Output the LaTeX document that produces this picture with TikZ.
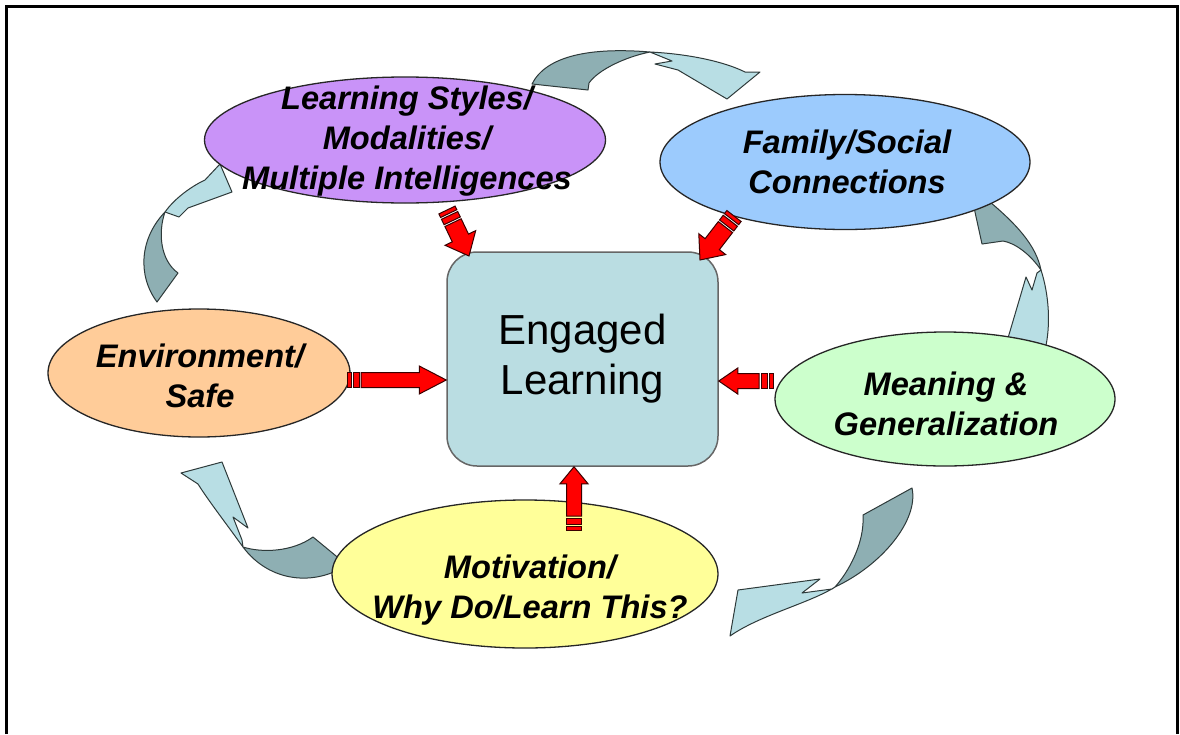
\documentclass[tikz,border=0pt]{standalone}
\usepackage{fontspec}
\setmainfont{Liberation Sans}
\usetikzlibrary{calc,shapes.geometric}

\definecolor{lsfill}{HTML}{C993F8}
\definecolor{fsfill}{HTML}{9CCBFD}
\definecolor{envfill}{HTML}{FFCC99}
\definecolor{mgfill}{HTML}{CCFFCC}
\definecolor{motfill}{HTML}{FFFF99}
\definecolor{boxfill}{HTML}{BADDE2}
\definecolor{bandback}{HTML}{8EAFB3}
\definecolor{bandfront}{HTML}{B8DEE4}
\definecolor{bandline}{HTML}{2E3A3A}
\definecolor{arrowred}{HTML}{FF0000}
\definecolor{arrowline}{HTML}{3A0000}

% striped block arrow from #1 (tail) to #2 (tip);
% #3 head length, #4 head half width, #5 shaft half width
\newcommand\stripedarrow[5]{%
  \path let \p1=(#1), \p2=(#2) in \pgfextra{%
    \pgfmathsetmacro\sAang{atan2(\y2-\y1,\x2-\x1)}%
    \pgfmathsetmacro\sAlen{veclen(\x2-\x1,\y2-\y1)}%
    \global\let\sAang\sAang \global\let\sAlen\sAlen};
  \begin{scope}[shift={(#1)}, rotate=\sAang, x=1pt, y=1pt]
    \filldraw[redarrow] (0,-#5) rectangle (4,#5);
    \filldraw[redarrow] (6,-#5) rectangle (12,#5);
    \filldraw[redarrow] (14,-#5) -- ({\sAlen-#3},-#5) -- ({\sAlen-#3},-#4)
      -- (\sAlen,0) -- ({\sAlen-#3},#4) -- ({\sAlen-#3},#5) -- (14,#5) -- cycle;
  \end{scope}}

\begin{document}
\begin{tikzpicture}[x=1pt,y=-1pt,
  bubble/.style={ellipse, draw=black!85, line width=1.3pt, inner sep=0pt},
  bubbletext/.style={font=\fontsize{32.6}{40}\selectfont\bfseries\itshape,
    align=center, text=black, inner sep=0pt},
  centerbox/.style={draw=black!60, line width=1.5pt, fill=boxfill,
    rounded corners=30pt, minimum width=271pt, minimum height=214pt,
    font=\fontsize{42}{50}\selectfont, align=center, text=black},
  redarrow/.style={fill=arrowred, draw=arrowline, line width=1pt, line join=miter},
  bandB/.style={fill=bandback, draw=bandline, line width=1pt, line join=round},
  bandF/.style={fill=bandfront, draw=bandline, line width=1pt, line join=round}]

\useasboundingbox (0,0) rectangle (1180,734);
\fill[white] (0,0) rectangle (1180,734);

% frame
\draw[line width=3pt] (6.5,734) -- (6.5,6.5) -- (1177,6.5) -- (1177,734);

% curved cycle arrows (back face dark, front face light)
% top: learning styles -> family/social
\filldraw[bandB] (532,84) .. controls (546,56) and (590,47) .. (650,52)
  .. controls (625,57) and (598,70) .. (589,83) -- (588,90) -- cycle;
\filldraw[bandF] (650,52) .. controls (690,54) and (725,62) .. (745,72)
  -- (760,72) -- (727,99) -- (678,70) -- (655,64) -- (672,61) -- cycle;
% right: family/social -> meaning
\filldraw[bandB] (973,203) -- (990,202) .. controls (1016,224) and (1036,245) .. (1041,270)
  .. controls (1030,254) and (1015,243) .. (1003,241) -- (982,244) -- cycle;
\filldraw[bandF] (1041,270) .. controls (1049,295) and (1051,325) .. (1045,350)
  -- (1008,338) -- (1026,277) -- (1032,290) -- (1037,273) -- cycle;
% bottom right: meaning -> motivation
\filldraw[bandB] (863,515) -- (912,488) .. controls (919,520) and (882,565) .. (835,587)
  .. controls (850,570) and (862,545) .. (863,523) -- cycle;
\filldraw[bandF] (835,587) .. controls (810,603) and (760,615) .. (730,636)
  -- (738,590) -- (820,579) -- (802,593) -- (832,589) -- cycle;
% bottom left: motivation -> environment
\filldraw[bandB] (313,537) -- (347,565) .. controls (315,586) and (270,583) .. (243,547)
  .. controls (262,553) and (292,552) .. (313,537) -- cycle;
\filldraw[bandF] (243,547) .. controls (225,522) and (208,500) .. (198,484)
  -- (181,473) -- (222,462) -- (248,528) -- (233,517) -- (242,540) -- cycle;
% left: environment -> learning styles
\filldraw[bandB] (157,302) .. controls (137,275) and (140,238) .. (165,212)
  .. controls (158,232) and (160,260) .. (178,273) -- cycle;
\filldraw[bandF] (165,212) .. controls (175,198) and (192,186) .. (205,180)
  -- (220,164) -- (232,192) -- (188,208) -- (179,217) -- cycle;

% topic ellipses
\node[bubble, fill=lsfill, minimum width=401pt, minimum height=126pt] (ls) at (405,140) {};
\node[bubbletext] at (407,141) {Learning Styles/\\Modalities/\\Multiple Intelligences};

\node[bubble, fill=fsfill, minimum width=370pt, minimum height=135pt] (fs) at (845,162) {};
\node[bubbletext] at (847,162) {Family/Social\\Connections};

\node[bubble, fill=envfill, minimum width=302pt, minimum height=128pt] (env) at (199,373) {};
\node[bubbletext] at (200,376) {Environment/\\Safe};

\node[bubble, fill=mgfill, minimum width=340pt, minimum height=134pt] (mg) at (945,399) {};
\node[bubbletext] at (946,404) {Meaning \&\\Generalization};

\node[bubble, fill=motfill, minimum width=386pt, minimum height=148pt] (mot) at (525,574) {};
\node[bubbletext] at (530,590) {Motivation/\\Why Do/Learn This?};

% centre
\node[centerbox] (el) at (582.5,359) {Engaged\\Learning};

% arrow anchors
\coordinate (lsTail) at (447,210);
\coordinate (lsTip) at (469,256);
\coordinate (fsTail) at (734,216);
\coordinate (fsTip) at (700,260);
\coordinate (envTail) at (347,380);
\coordinate (envTip) at (el.west |- envTail);
\coordinate (mgTail) at (773,381);
\coordinate (mgTip) at (el.east |- mgTail);
\coordinate (motTail) at (574,530);
\coordinate (motTip) at (motTail |- el.south);

\stripedarrow{lsTail}{lsTip}{20}{17}{9}
\stripedarrow{fsTail}{fsTip}{20}{17}{9}
\stripedarrow{envTail}{envTip}{27}{14}{7.5}
\stripedarrow{mgTail}{mgTip}{19}{13}{7.5}
\stripedarrow{motTail}{motTip}{17}{14}{7.5}

\end{tikzpicture}
\end{document}
